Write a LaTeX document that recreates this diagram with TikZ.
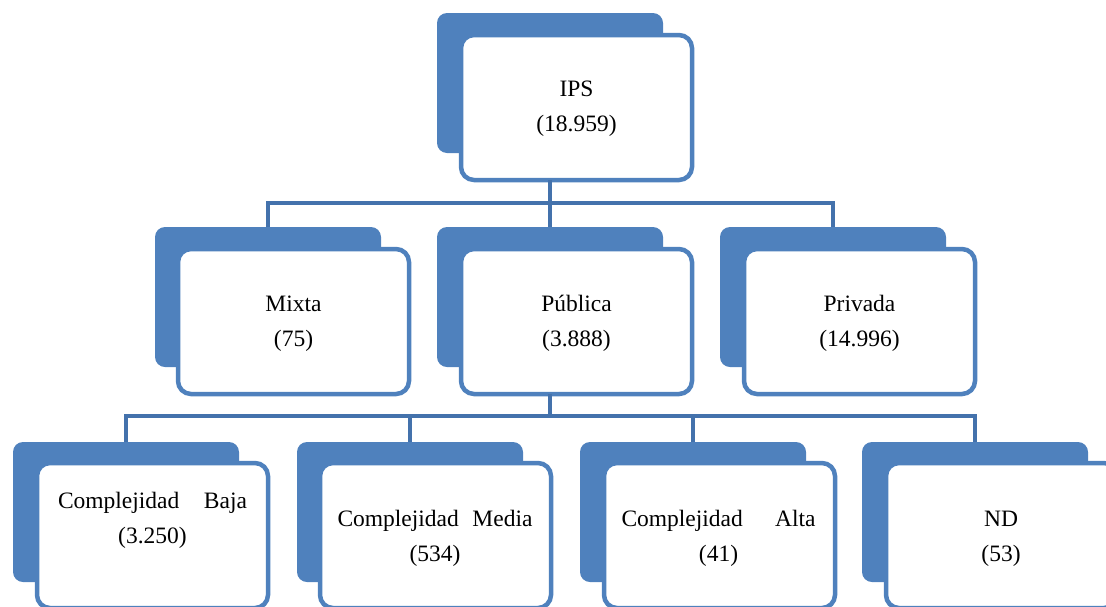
\documentclass[tikz,border=0pt]{standalone}
\usepackage{fontspec}
\setmainfont{Liberation Serif}
\definecolor{boxblue}{RGB}{79,129,189}
\definecolor{linkblue}{RGB}{68,114,172}
\begin{document}
\begin{tikzpicture}[x=1pt,y=-1pt,
  backbox/.style={rectangle, rounded corners=10pt, fill=boxblue, draw=none,
    minimum width=226pt, minimum height=140pt, inner sep=0pt, outer sep=0pt, anchor=north west},
  frontbox/.style={rectangle, rounded corners=13pt, fill=white, draw=boxblue, line width=4.5pt,
    minimum width=231pt, minimum height=145pt, inner sep=0pt, outer sep=0pt, anchor=north west},
  lbl/.style={align=center, inner sep=0pt, font={\fontsize{23.5}{35}\selectfont}},
  conn/.style={draw=linkblue, line width=4pt, line join=miter}]
\useasboundingbox (0,0) rectangle (1106,606);
\clip (0,0) rectangle (1106,606);

% bus lines
\coordinate (bus1) at (0,203);
\coordinate (bus2) at (0,416);

% top level
\node[backbox]  (ipsb) at (437,13) {};
\node[frontbox] (ips)  at (461,35) {};
\node[lbl] (ipst) at (576.5,109) {IPS\\(18.959)};

% second level
\node[backbox]  (mixtab)   at (155,227) {};
\node[frontbox] (mixta)    at (178,249) {};
\node[lbl] (mixtat) at (293.5,323.5) {Mixta\\(75)};

\node[backbox]  (publicab) at (437,227) {};
\node[frontbox] (publica)  at (461,249) {};
\node[lbl] (publicat) at (576.5,323.5) {Pública\\(3.888)};

\node[backbox]  (privadab) at (720,227) {};
\node[frontbox] (privada)  at (744,249) {};
\node[lbl] (privadat) at (859.5,323.5) {Privada\\(14.996)};

% third level
\node[backbox]  (bajab)  at (13,442) {};
\node[frontbox] (baja)   at (37,463) {};
\node[lbl] (bajat) at (152.5,520) {\makebox[189pt][s]{Complejidad Baja}\\(3.250)};

\node[backbox]  (mediab) at (297,442) {};
\node[frontbox] (media)  at (320,463) {};
\node[lbl] (mediat) at (435,538.5) {\makebox[195pt][s]{Complejidad Media}\\(534)};

\node[backbox]  (altab)  at (580,442) {};
\node[frontbox] (alta)   at (604,463) {};
\node[lbl] (altat) at (718.5,538.5) {\makebox[194pt][s]{Complejidad Alta}\\(41)};

\node[backbox]  (ndb)    at (862,442) {};
\node[frontbox] (nd)     at (886,463) {};
\node[lbl] (ndt) at (1001,538.5) {ND\\(53)};

% connectors
\draw[conn] (ipsb |- ips.south) -- (publicab.north);
\draw[conn] (mixtab.north) |- (privadab.north |- bus1) -- (privadab.north);

\draw[conn] (publicab |- publica.south) -- (publicab |- bus2);
\draw[conn] (bajab.north) |- (ndb.north |- bus2) -- (ndb.north);
\draw[conn] (mediab |- bus2) -- (mediab.north);
\draw[conn] (altab |- bus2) -- (altab.north);
\end{tikzpicture}
\end{document}
